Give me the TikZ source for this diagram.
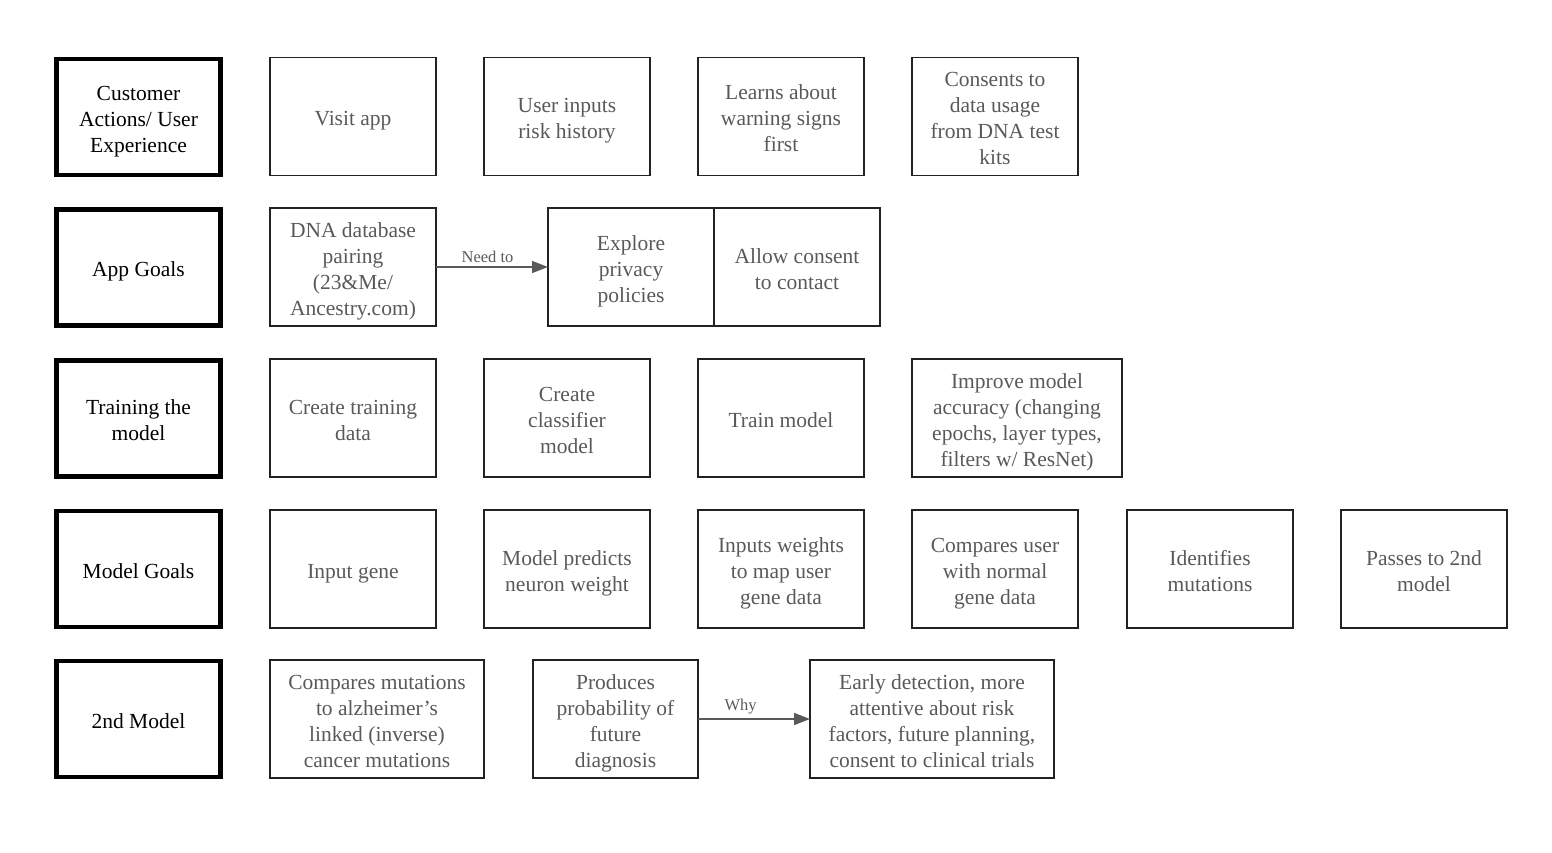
\documentclass[tikz,border=0pt]{standalone}
\usepackage{fontspec}
\setmainfont{Liberation Serif}
\usetikzlibrary{arrows.meta}
\definecolor{txtgray}{HTML}{595959}
\definecolor{boxline}{HTML}{222222}
\newcommand\topstrut{\rule{0pt}{25pt}}
\newcommand\botstrut{\rule[-7pt]{0pt}{7pt}}
\newcommand\tx[1]{\topstrut#1\botstrut}
\tikzset{
  base/.style={rectangle, inner sep=0pt, outer sep=0pt, align=center,
    font=\fontsize{21.5}{26}\selectfont},
  header/.style={base, draw=black, line width=4.5pt, text=black,
    minimum width=164pt, minimum height=116pt},
  card/.style={base, draw=boxline, line width=1.4pt, text=txtgray,
    minimum height=118pt},
  conn/.style={draw=txtgray, line width=1.4pt, -{Triangle[length=16pt,width=12pt]}},
  clabel/.style={font=\fontsize{16.5}{20}\selectfont, text=txtgray, above, inner sep=4pt}
}
\begin{document}
\begin{tikzpicture}[x=1pt,y=-1pt]
\useasboundingbox (0,0) rectangle (1552,852);
% headers
\node[header] (h1) at (138.5,117) {\topstrut Customer\\Actions/ User\\Experience\botstrut};
\node[header] (h2) at (138.5,267.5) {\topstrut App Goals\botstrut};
\node[header] (h3) at (138.5,418.5) {\topstrut Training the\\model\botstrut};
\node[header] (h4) at (138.5,569) {\topstrut Model Goals\botstrut};
\node[header] (h5) at (138.5,719) {\topstrut 2nd Model\botstrut};
% row 1
\node[card, minimum width=166pt] (r1a) at (353,116.5) {\topstrut Visit app\botstrut};
\node[card, minimum width=166pt] (r1b) at (567,116.5) {\topstrut User inputs\\risk history\botstrut};
\node[card, minimum width=166pt] (r1c) at (781,116.5) {\topstrut Learns about\\warning signs\\first\botstrut};
\node[card, minimum width=166pt] (r1d) at (995,116.5) {\topstrut Consents to\\data usage\\from DNA test\\kits\botstrut};
% row 2
\node[card, minimum width=166pt] (dna) at (353,267) {\topstrut DNA database\\pairing\\(23\&Me/\\Ancestry.com)\botstrut};
\node[card, minimum width=166pt] (explore) at (631,267) {\topstrut Explore\\privacy\\policies\botstrut};
\node[card, minimum width=166pt] (allow) at (797,267) {\topstrut Allow consent\\to contact\botstrut};
\draw[conn] (dna.east) -- node[clabel, pos=0.46] {Need to} (explore.west);
% row 3
\node[card, minimum width=166pt] (r3a) at (353,418) {\topstrut Create training\\data\botstrut};
\node[card, minimum width=166pt] (r3b) at (567,418) {\topstrut Create\\classifier\\model\botstrut};
\node[card, minimum width=166pt] (r3c) at (781,418) {\topstrut Train model\botstrut};
\node[card, minimum width=210pt] (r3d) at (1017,418) {\topstrut Improve model\\accuracy (changing\\epochs, layer types,\\filters w/ ResNet)\botstrut};
% row 4
\node[card, minimum width=166pt] (r4a) at (353,569) {\topstrut Input gene\botstrut};
\node[card, minimum width=166pt] (r4b) at (567,569) {\topstrut Model predicts\\neuron weight\botstrut};
\node[card, minimum width=166pt] (r4c) at (781,569) {\topstrut Inputs weights\\to map user\\gene data\botstrut};
\node[card, minimum width=166pt] (r4d) at (995,569) {\topstrut Compares user\\with normal\\gene data\botstrut};
\node[card, minimum width=166pt] (r4e) at (1210,569) {\topstrut Identifies\\mutations\botstrut};
\node[card, minimum width=166pt] (r4f) at (1424,569) {\topstrut Passes to 2nd\\model\botstrut};
% row 5
\node[card, minimum width=214pt] (r5a) at (377,719) {\topstrut Compares mutations\\to alzheimer’s\\linked (inverse)\\cancer mutations\botstrut};
\node[card, minimum width=165pt] (prod) at (615.5,719) {\topstrut Produces\\probability of\\future\\diagnosis\botstrut};
\node[card, minimum width=244pt] (early) at (932,719) {\topstrut Early detection, more\\attentive about risk\\factors, future planning,\\consent to clinical trials\botstrut};
\draw[conn] (prod.east) -- node[clabel, pos=0.38] {Why} (early.west);
\end{tikzpicture}
\end{document}
